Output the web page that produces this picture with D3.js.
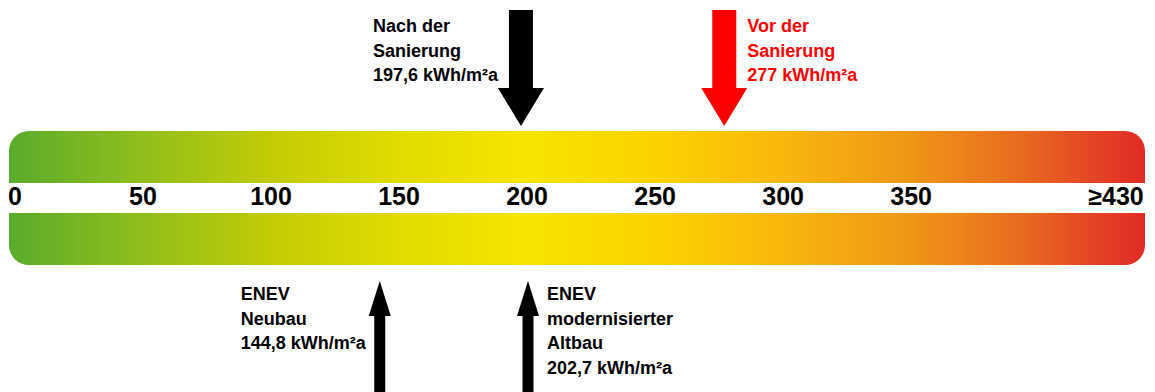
<!DOCTYPE html>
<html>
<head>
<meta charset="utf-8">
<script src="https://cdn.jsdelivr.net/npm/d3@7"></script>
<style>
  html, body { margin: 0; padding: 0; background: #fff; }
  svg { display: block; }
  text { font-family: "Liberation Sans", Arial, sans-serif; font-weight: bold; }
</style>
</head>
<body>
<svg id="chart" width="1155" height="392"></svg>
<script>
// ---- data ----
const tickValues = [0, 50, 100, 150, 200, 250, 300, 350, 430];
const tickLabels = ["0", "50", "100", "150", "200", "250", "300", "350", "≥430"];

const markerValues = [197.6, 277, 144.8, 202.7];
const markerTexts = [
  "Nach der\nSanierung\n197,6 kWh/m²a",
  "Vor der\nSanierung\n277 kWh/m²a",
  "ENEV\nNeubau\n144,8 kWh/m²a",
  "ENEV\nmodernisierter\nAltbau\n202,7 kWh/m²a"
];
const markerSides = ["top", "top", "bottom", "bottom"];
const markerLabelSides = ["left", "right", "left", "right"];
const markerColors = ["#000000", "#ff0000", "#000000", "#000000"];

// ---- layout ----
const W = 1155, H = 392;
const svg = d3.select("#chart");
const x = d3.scaleLinear().domain([0, 430]).range([15, 1116]);

const barLeft = 9, barRight = 1145;
const topBand = { y0: 131, y1: 183 };
const botBand = { y0: 213, y1: 265 };
const R = 20;

// gradient
const defs = svg.append("defs");
const grad = defs.append("linearGradient")
  .attr("id", "scaleGrad")
  .attr("gradientUnits", "userSpaceOnUse")
  .attr("x1", barLeft).attr("x2", barRight).attr("y1", 0).attr("y2", 0);
const stops = [
  [0.000, "#5aab2b"], [0.115, "#8fbe1c"], [0.232, "#c3cc05"], [0.345, "#e2dc00"],
  [0.456, "#f7e500"], [0.570, "#fcd200"], [0.681, "#f8b70c"], [0.794, "#ef9617"],
  [0.886, "#e86d1f"], [1.000, "#e12a27"]
];
grad.selectAll("stop").data(stops).join("stop")
  .attr("offset", d => d[0]).attr("stop-color", d => d[1]);

function bandPath(y0, y1, roundTop) {
  const p = d3.path();
  if (roundTop) {
    p.moveTo(barLeft, y1);
    p.lineTo(barLeft, y0 + R);
    p.arcTo(barLeft, y0, barLeft + R, y0, R);
    p.lineTo(barRight - R, y0);
    p.arcTo(barRight, y0, barRight, y0 + R, R);
    p.lineTo(barRight, y1);
    p.closePath();
  } else {
    p.moveTo(barLeft, y0);
    p.lineTo(barRight, y0);
    p.lineTo(barRight, y1 - R);
    p.arcTo(barRight, y1, barRight - R, y1, R);
    p.lineTo(barLeft + R, y1);
    p.arcTo(barLeft, y1, barLeft, y1 - R, R);
    p.closePath();
  }
  return p.toString();
}

svg.append("path").attr("d", bandPath(topBand.y0, topBand.y1, true)).attr("fill", "url(#scaleGrad)");
svg.append("path").attr("d", bandPath(botBand.y0, botBand.y1, false)).attr("fill", "url(#scaleGrad)");

// tick labels
svg.append("g").selectAll("text")
  .data(tickValues)
  .join("text")
  .attr("x", d => x(d))
  .attr("y", 205)
  .attr("text-anchor", "middle")
  .attr("font-size", 25)
  .attr("fill", "#000")
  .text((d, i) => tickLabels[i]);

// arrows
const arrowStyle = {
  top:    { shaftW: 24, headW: 46, y0: 10, headBase: 88, tip: 126, dx: 0 },
  bottom: { shaftW: 11, headW: 22, y0: 392, headBase: 316, tip: 281, dx: -6 }
};

function arrowPath(cx, s) {
  const p = d3.path();
  p.moveTo(cx - s.shaftW / 2, s.y0);
  p.lineTo(cx + s.shaftW / 2, s.y0);
  p.lineTo(cx + s.shaftW / 2, s.headBase);
  p.lineTo(cx + s.headW / 2, s.headBase);
  p.lineTo(cx, s.tip);
  p.lineTo(cx - s.headW / 2, s.headBase);
  p.lineTo(cx - s.shaftW / 2, s.headBase);
  p.closePath();
  return p.toString();
}

const labelOffsets = {
  "top-left": -148, "top-right": 23, "bottom-left": -139, "bottom-right": 19
};
const labelFirstBaseline = { top: 32, bottom: 300 };
const lineH = 24.5;

markerValues.forEach((v, i) => {
  const side = markerSides[i];
  const s = arrowStyle[side];
  const cx = x(v) + s.dx;
  const g = svg.append("g");
  g.append("path").attr("d", arrowPath(cx, s)).attr("fill", markerColors[i]);
  const t = g.append("text")
    .attr("font-size", 18)
    .attr("fill", markerColors[i])
    .attr("text-anchor", "start");
  const lx = cx + labelOffsets[side + "-" + markerLabelSides[i]];
  markerTexts[i].split("\n").forEach((line, j) => {
    t.append("tspan").attr("x", lx).attr("y", labelFirstBaseline[side] + j * lineH).text(line);
  });
});
</script>
</body>
</html>
